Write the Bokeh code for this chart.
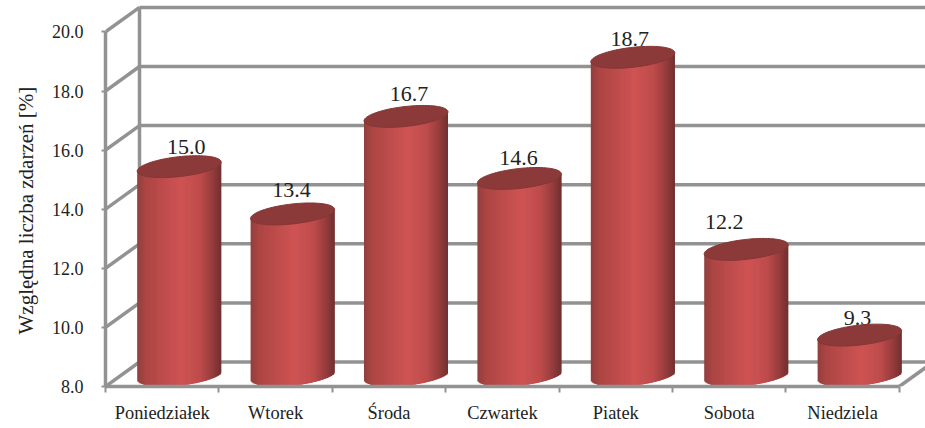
import numpy as np
from bokeh.plotting import figure
from bokeh.models import Range1d, FixedTicker, Title
from bokeh.core.properties import value
from bokeh.embed import file_html
from bokeh.resources import INLINE

days = ["Poniedziałek", "Wtorek", "Środa", "Czwartek", "Piatek", "Sobota", "Niedziela"]
shares = [15.0, 13.4, 16.7, 14.6, 18.7, 12.2, 9.3]
y_ticks = [8, 10, 12, 14, 16, 18, 20]
y_label = "Względna liczba zdarzeń [%]"

# layout (page pixels)
W, H = 925, 428
LEFT, BOTTOM = 105, 386
PX_X, PX_Y = 113.4, 29.55
GRID = "#929292"
INK = "#222222"
FONT = "Liberation Serif"
def ux(px): return px / PX_X
def uy(px): return px / PX_Y
label_dx = [7, -1, 3, -1, -3, -22, -2]
label_dy = [21, 25, 23, 21, 19, 28, 18]

centers = list(range(len(days)))
edges = [c - 0.5 for c in centers] + [centers[-1] + 0.5]

p = figure(width=W, height=H, output_backend="svg", toolbar_location=None,
           x_range=Range1d(-0.5, -0.5 + (W - LEFT) / PX_X),
           y_range=Range1d(8, 8 + BOTTOM / PX_Y),
           min_border_left=LEFT, min_border_right=0, min_border_top=0,
           min_border_bottom=H - BOTTOM, outline_line_color=None,
           background_fill_color="white", border_fill_color="white",
           margin=(0, 0, 0, 0))
p.grid.visible = False

ax = p.xaxis[0]
ax.bounds = (edges[0], edges[-1])
ax.ticker = FixedTicker(ticks=centers, minor_ticks=edges)
ax.major_label_overrides = {c: d for c, d in zip(centers, days)}
ax.major_tick_line_color = None
ax.major_tick_in = ax.major_tick_out = 0
ax.minor_tick_in = 0
ax.minor_tick_out = 6
ax.minor_tick_line_color = GRID
ax.minor_tick_line_width = 2
ax.axis_line_color = GRID
ax.axis_line_width = 3.5
ax.major_label_standoff = 10
ax.major_label_text_font = FONT
ax.major_label_text_font_size = "18.4px"
ax.major_label_text_color = INK

ay = p.yaxis[0]
ay.bounds = (8, 20)
ay.ticker = FixedTicker(ticks=y_ticks)
ay.major_label_overrides = {t: f"{t:.1f}" for t in y_ticks}
ay.minor_tick_line_color = None
ay.major_tick_in = 0
ay.major_tick_out = 4
ay.major_tick_line_color = GRID
ay.major_tick_line_width = 2
ay.axis_line_color = GRID
ay.axis_line_width = 3.5
ay.major_label_standoff = 18
ay.major_label_text_font = FONT
ay.major_label_text_font_size = "18px"
ay.major_label_text_color = INK

p.add_layout(Title(text=y_label, align="left", offset=BOTTOM - 334, standoff=21,
                   text_font=FONT, text_font_style="normal", text_font_size="21px",
                   text_color=INK), "left")

# 3-D walls
dx, dy = ux(34), uy(24.5)
x0, x1 = edges[0], edges[-1]
p.segment(x0=[x0 + dx] * len(y_ticks), x1=[x1 + dx + 1] * len(y_ticks),
          y0=[t + dy for t in y_ticks], y1=[t + dy for t in y_ticks],
          line_color=GRID, line_width=3.5)
p.segment(x0=[x0] * len(y_ticks), x1=[x0 + dx] * len(y_ticks),
          y0=y_ticks, y1=[t + dy for t in y_ticks],
          line_color=GRID, line_width=3.5)
p.segment(x0=[x0 + dx], x1=[x0 + dx], y0=[y_ticks[0] + dy], y1=[y_ticks[-1] + dy],
          line_color=GRID, line_width=3.5)
p.segment(x0=[x1], x1=[x1 + dx], y0=[8], y1=[8 + dy], line_color=GRID, line_width=3.5)

# value labels (behind the cylinders)
p.text(x=[c + ux(17 + d) for c, d in zip(centers, label_dx)],
       y=[v + uy(d + 12) for v, d in zip(shares, label_dy)],
       text=[f"{v:.1f}" for v in shares],
       text_font=value(FONT), text_font_size="22px", text_color=INK,
       text_align="center", text_baseline="middle")

# cylinders: painter's strips, each overlapping the next so no white seams
half = ux(42)
n = 84
us = (np.arange(n) + 0.5) / n * 2 - 1
stops = [-1, -0.8, 0.05, 0.5, 0.8, 1]
R = np.interp(us, stops, [145, 172, 208, 190, 150, 112])
G = np.interp(us, stops, [64, 70, 84, 76, 60, 48])
B = np.interp(us, stops, [62, 68, 84, 76, 60, 48])
cols = ["#%02x%02x%02x" % (int(r), int(g), int(b)) for r, g, b in zip(R, G, B)]
tilt, rad = uy(4.5), uy(10)
t = np.linspace(0, 2 * np.pi, 80)
strip = half * 2 / n
for c, v in zip(centers, shares):
    cx = c + ux(17)
    cb = 8 + uy(11)
    ct = v + uy(13)
    left = cx + us * half - strip / 2
    right = np.minimum(left + strip * 2.5, cx + half)
    p.quad(left=left, right=right,
           bottom=cb + tilt * us - rad * np.sqrt(1 - us ** 2),
           top=ct + tilt * us, fill_color=cols, line_color=None)
    p.patch(cx + half * np.cos(t),
            ct + tilt * np.cos(t) + rad * np.sin(t),
            fill_color="#8b3a39", line_color="#843735", line_width=1)

open("out.html", "w").write(file_html(p, INLINE))
